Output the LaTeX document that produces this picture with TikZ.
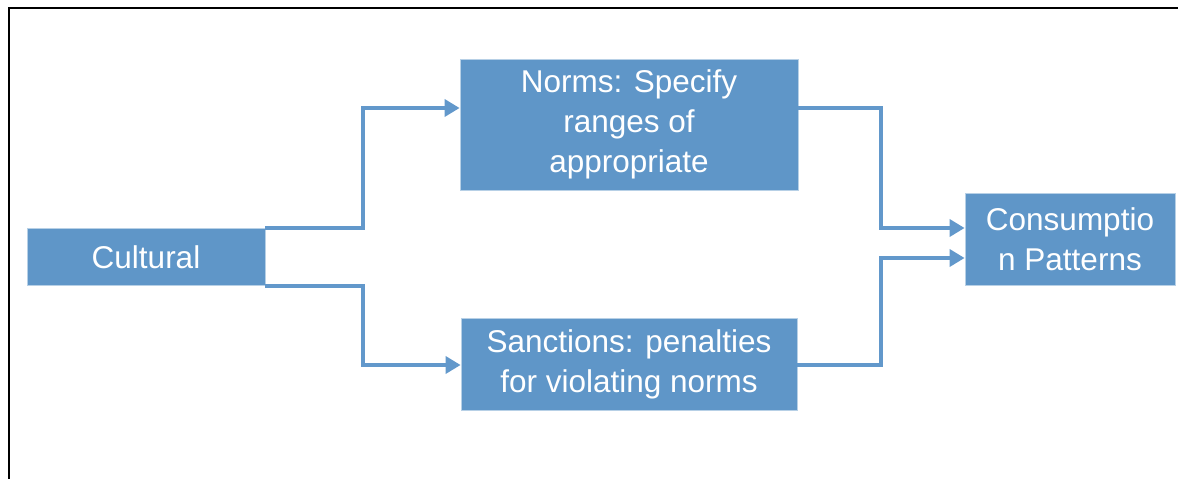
\documentclass[tikz,border=0pt]{standalone}
\usepackage{fontspec}
\setmainfont{Liberation Sans}
\usetikzlibrary{arrows.meta}
\definecolor{boxblue}{RGB}{95,150,200}
\definecolor{linkblue}{RGB}{98,152,203}
\begin{document}
\begin{tikzpicture}[x=1pt,y=-1pt,
  box/.style={fill=boxblue, draw=white!55!boxblue, line width=0.8pt, text=white,
    align=center, inner sep=0pt, font=\fontsize{31.5}{40}\selectfont},
  link/.style={draw=linkblue, line width=3.5pt,
    -{Triangle[length=15pt,width=17pt]}}]
\useasboundingbox (0,0) rectangle (1178,479);
% frame
\draw[line width=2pt] (8.5,479) -- (8.5,8) -- (1178,8);
% boxes
\node[box, minimum width=238pt, minimum height=57pt] (cult) at (146,257) {Cultural};
\node[box, minimum width=338pt, minimum height=131pt] (norms) at (629,124.5)
  {Norms: Specify\\ranges of\\appropriate};
\node[box, minimum width=336pt, minimum height=92pt] (sanc) at (629,364)
  {Sanctions: penalties\\for violating norms};
\node[box, minimum width=210pt, minimum height=92pt] (cons) at (1070,239)
  {Consumptio\\n Patterns};
% bend points
\coordinate (a1) at (363,108);
\coordinate (a2) at (363,365);
\coordinate (b1) at (881,228);
\coordinate (b2) at (881,258);
% connectors
\draw[link] (cult.north east) -| (a1) -- (a1 -| norms.west);
\draw[link] (cult.south east) -| (a2) -- (a2 -| sanc.west);
\draw[link] (norms.east |- a1) -| (b1) -- (b1 -| cons.west);
\draw[link] (sanc.east |- a2) -| (b2) -- (b2 -| cons.west);
\end{tikzpicture}
\end{document}
